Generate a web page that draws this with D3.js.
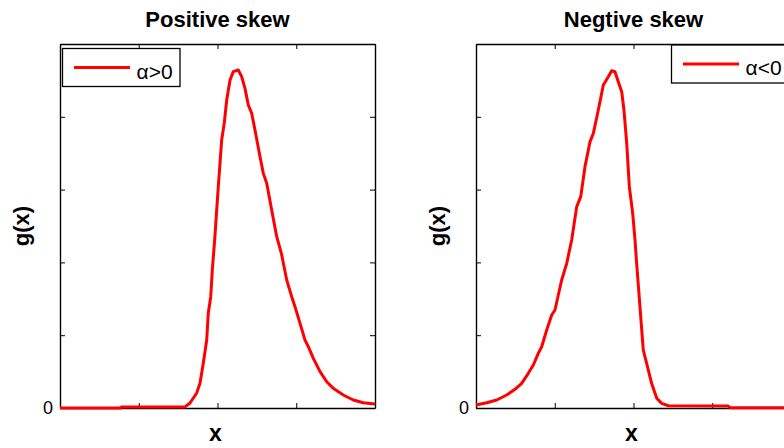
<!DOCTYPE html>
<html>
<head>
<meta charset="utf-8">
<script src="https://cdn.jsdelivr.net/npm/d3@7"></script>
<style>
  body { margin: 0; background: #fff; }
  text { font-family: "Liberation Sans", Arial, sans-serif; }
</style>
</head>
<body>
<div class="chart"></div>
<script>
// values (x runs 0..4, g(x) runs 0..5)
var titles = ["Positive skew", "Negtive skew"];
var legendLabels = ["\u03b1>0", "\u03b1<0"];
var yTickValues = [0, 1, 2, 3, 4, 5];
var xTickValues = [0, 1, 2, 3, 4];

var posX = [0, 0.775, 0.78, 1.587, 1.651, 1.736, 1.778, 1.82, 1.863, 1.883, 1.914, 1.934, 1.964,
  2.01, 2.053, 2.086, 2.117, 2.159, 2.201, 2.264, 2.307, 2.349, 2.391, 2.434, 2.476, 2.54,
  2.582, 2.625, 2.688, 2.752, 2.815, 2.879, 2.942, 2.984, 3.048, 3.111, 3.153, 3.217, 3.302,
  3.387, 3.47, 3.597, 3.724, 3.851, 4.0];
var posY = [0, 0, 0.015, 0.015, 0.069, 0.206, 0.343, 0.618, 0.934, 1.305, 1.529, 1.896, 2.308,
  3.04, 3.681, 3.915, 4.231, 4.505, 4.62, 4.643, 4.551, 4.391, 4.162, 4.048, 3.819, 3.452,
  3.223, 3.086, 2.72, 2.353, 2.106, 1.758, 1.529, 1.392, 1.163, 0.934, 0.842, 0.682, 0.499,
  0.361, 0.27, 0.179, 0.11, 0.073, 0.055];

var negX = [0, 0.136, 0.263, 0.39, 0.495, 0.58, 0.664, 0.728, 0.791, 0.834, 0.898, 0.961, 1.003,
  1.045, 1.088, 1.152, 1.215, 1.279, 1.33, 1.384, 1.448, 1.49, 1.553, 1.617, 1.68, 1.723,
  1.765, 1.807, 1.85, 1.879, 1.914, 1.947, 1.99, 2.019, 2.04, 2.082, 2.124, 2.167, 2.23,
  2.295, 2.358, 2.442, 3.204, 3.225, 4.0];
var negY = [0.041, 0.073, 0.11, 0.179, 0.257, 0.339, 0.476, 0.591, 0.751, 0.842, 1.071, 1.277, 1.346,
  1.552, 1.758, 1.987, 2.308, 2.766, 2.903, 3.315, 3.659, 3.773, 4.093, 4.437, 4.551, 4.633,
  4.619, 4.482, 4.345, 4.093, 3.636, 3.04, 2.674, 2.308, 1.987, 1.391, 0.797, 0.614, 0.339,
  0.133, 0.064, 0.031, 0.027, 0.004, 0.004];

var svgWidth = 784;
var svgHeight = 448;

var svg = d3.select(".chart")
  .append("svg")
  .attr("width", svgWidth)
  .attr("height", svgHeight);

var panels = [
  { left: 60, xs: posX, ys: posY, legendX: 62.5, legendY: 48.5 },
  { left: 476, xs: negX, ys: negY, legendX: 671.5, legendY: 45 }
];

var plotWidth = 315;
var plotTop = 44, plotBottom = 408;

panels.forEach(function(p, i) {
  var xScale = d3.scaleLinear().domain([0, 4]).range([p.left, p.left + plotWidth]);
  var yScale = d3.scaleLinear().domain([0, 5]).range([plotBottom, plotTop]);

  var g = svg.append("g");

  // all four sides, ticks pointing inward like matlab
  g.append("g")
    .attr("transform", `translate(0, ${plotBottom})`)
    .call(d3.axisBottom(xScale).tickValues(xTickValues).tickSizeInner(-5).tickSizeOuter(0).tickFormat(""));
  g.append("g")
    .attr("transform", `translate(0, ${plotTop})`)
    .call(d3.axisTop(xScale).tickValues(xTickValues).tickSizeInner(-5).tickSizeOuter(0).tickFormat(""));
  g.append("g")
    .attr("transform", `translate(${p.left}, 0)`)
    .call(d3.axisLeft(yScale).tickValues(yTickValues).tickSizeInner(-5).tickSizeOuter(0).tickPadding(7)
      .tickFormat(d => d === 0 ? "0" : ""));
  g.append("g")
    .attr("transform", `translate(${p.left + plotWidth}, 0)`)
    .call(d3.axisRight(yScale).tickValues(yTickValues).tickSizeInner(-5).tickSizeOuter(0).tickFormat(""));

  g.selectAll(".domain").attr("stroke", "#000").attr("stroke-width", 1.4);
  g.selectAll(".tick line").attr("stroke", "#000");
  g.selectAll(".tick text").attr("font-size", 18).attr("fill", "#000")
    .attr("font-family", "Liberation Sans, Arial, sans-serif");

  var pts = p.xs.map((x, k) => [x, p.ys[k]]);
  var line = d3.line().x(d => xScale(d[0])).y(d => yScale(d[1]));

  g.append("path")
    .datum(pts)
    .attr("d", line)
    .attr("fill", "none")
    .attr("stroke", "#ff0000")
    .attr("stroke-width", 3)
    .attr("stroke-linejoin", "round");

  // title
  g.append("text")
    .attr("x", p.left + plotWidth / 2)
    .attr("y", 27)
    .attr("text-anchor", "middle")
    .attr("font-size", 22)
    .attr("font-weight", "bold")
    .text(titles[i]);

  // axis labels
  g.append("text")
    .attr("transform", `translate(${p.left - 31}, ${(plotTop + plotBottom) / 2}) rotate(-90)`)
    .attr("text-anchor", "middle")
    .attr("font-size", 22)
    .attr("font-weight", "bold")
    .text("g(x)");

  g.append("text")
    .attr("x", p.left + plotWidth / 2 - 2)
    .attr("y", 441)
    .attr("text-anchor", "middle")
    .attr("font-size", 23)
    .attr("font-weight", "bold")
    .text("x");

  // legend
  var lg = g.append("g").attr("transform", `translate(${p.legendX}, ${p.legendY})`);
  lg.append("rect")
    .attr("width", 117.5)
    .attr("height", 38)
    .attr("fill", "#fff")
    .attr("stroke", "#000")
    .attr("stroke-width", 1.3);
  lg.append("line")
    .attr("x1", 11.5).attr("x2", 67.5)
    .attr("y1", 19).attr("y2", 19)
    .attr("stroke", "#ff0000")
    .attr("stroke-width", 3);
  lg.append("text")
    .attr("x", 74)
    .attr("y", 30)
    .attr("font-size", 21)
    .text(legendLabels[i]);
});
</script>
</body>
</html>
